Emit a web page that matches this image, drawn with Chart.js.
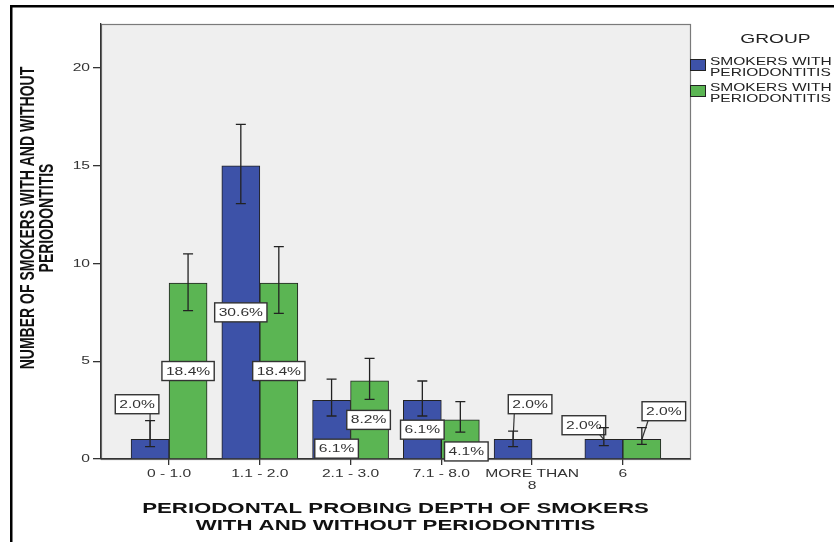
<!DOCTYPE html>
<html>
<head>
<meta charset="utf-8">
<script src="https://cdn.jsdelivr.net/npm/chart.js@4/dist/chart.umd.min.js"></script>
<style>
  html, body { margin: 0; padding: 0; background: #ffffff; }
  canvas { display: block; }
</style>
</head>
<body>
<canvas id="chart" width="834" height="542"></canvas>
<script>
// Probing-depth groups on the horizontal axis
const categories = ['0 - 1.0', '1.1 - 2.0', '2.1 - 3.0', '7.1 - 8.0', 'MORE THAN\n8', '6'];

// Counts per group
const withPerio    = [1, 15, 3, 3, 1, 1];
const withoutPerio = [9, 9, 4, 2, null, 1];

// Error bar limits
const withPerioLow     = [0.63, 13.06, 2.2, 2.2, 0.63, 0.68];
const withPerioHigh    = [1.96, 17.12, 4.09, 3.99, 1.43, 1.6];
const withoutPerioLow  = [7.59, 7.45, 3.05, 1.37, null, 0.75];
const withoutPerioHigh = [10.49, 10.86, 5.15, 2.93, null, 1.6];

// Value axis ticks
const yTicks = [0, 5, 10, 15, 20];

// Legend entries
const seriesNames = ['SMOKERS WITH\nPERIODONTITIS', 'SMOKERS WITH\nPERIODONTITIS'];

// Percentage-label nudges in pixels from the middle of each bar
const labelShiftWith    = [[-13, -45], [0, 0], [5, 19], [0, 0], [17, -45], [-20, -24]];
const labelShiftWithout = [[0, 0], [0, 0], [-1, 0], [6, 12], null, [22, -38]];

const BLUE = '#3d52a8';
const GREEN = '#5bb553';
const INK = '#222222';
const FONT = '"Liberation Sans", Arial, sans-serif';
const WIDE = 1.42;   // horizontal stretch used for the small text

const total = withPerio.concat(withoutPerio).reduce((s, v) => s + (v || 0), 0);
const pct = v => (v / total * 100).toFixed(1) + '%';

function stretchedText(ctx, text, x, y, sx, align) {
  ctx.save();
  ctx.translate(x, y);
  ctx.scale(sx, 1);
  ctx.textAlign = align || 'center';
  ctx.textBaseline = 'middle';
  ctx.fillText(text, 0, 0);
  ctx.restore();
}

const decor = {
  id: 'decor',
  beforeDraw(chart) {
    const { ctx, chartArea: a } = chart;
    ctx.save();
    ctx.fillStyle = '#efefef';
    ctx.fillRect(a.left, a.top, a.right - a.left, a.bottom - a.top);
    ctx.strokeStyle = '#7a7a7a';
    ctx.lineWidth = 1.2;
    ctx.strokeRect(a.left + 0.5, a.top + 0.5, a.right - a.left, a.bottom - a.top);
    // outer frame
    ctx.fillStyle = '#000';
    ctx.fillRect(10, 5, 834 - 10, 2.5);
    ctx.fillRect(10, 5, 2.5, 542 - 5);
    ctx.restore();
  },
  afterDraw(chart) {
    const { ctx } = chart;
    const xs = chart.scales.x, ys = chart.scales.y;

    // tick labels
    ctx.save();
    ctx.fillStyle = '#333';
    ctx.font = '11px ' + FONT;
    xs.ticks.forEach((t, i) => {
      const px = xs.getPixelForValue(t.value);
      categories[i].split('\n').forEach((line, j) => {
        stretchedText(ctx, line, px, 474 + j * 12, WIDE);
      });
    });
    ys.ticks.forEach(t => {
      stretchedText(ctx, String(t.value), 90, ys.getPixelForValue(t.value), WIDE, 'right');
    });
    ctx.restore();

    // value-axis title
    ctx.save();
    ctx.fillStyle = '#111';
    ctx.font = 'bold 14px ' + FONT;
    ctx.translate(37.5, 218);
    ctx.rotate(-Math.PI / 2);
    ctx.scale(1, 1.5);
    ctx.textAlign = 'center';
    ctx.textBaseline = 'middle';
    ctx.fillText('NUMBER OF SMOKERS WITH AND WITHOUT', 0, -9.5 / 1.5);
    ctx.fillText('PERIODONTITIS', 0, 9.5 / 1.5);
    ctx.restore();

    // category-axis title
    ctx.save();
    ctx.fillStyle = '#111';
    ctx.font = 'bold 15px ' + FONT;
    const mid = (chart.chartArea.left + chart.chartArea.right) / 2;
    stretchedText(ctx, 'PERIODONTAL PROBING DEPTH OF SMOKERS', mid, 509, 1.48);
    stretchedText(ctx, 'WITH AND WITHOUT PERIODONTITIS', mid, 525.5, 1.48);

    // legend
    ctx.fillStyle = '#222';
    ctx.font = '13.5px ' + FONT;
    stretchedText(ctx, 'GROUP', 775.5, 39, WIDE);
    const colors = [BLUE, GREEN];
    const tops = [59, 85];
    ctx.font = '11.5px ' + FONT;
    seriesNames.forEach((name, k) => {
      ctx.fillStyle = colors[k];
      ctx.fillRect(690, tops[k], 15, 11);
      ctx.strokeStyle = INK;
      ctx.lineWidth = 1;
      ctx.strokeRect(690.5, tops[k] + 0.5, 15, 11);
      ctx.fillStyle = '#222';
      name.split('\n').forEach((line, j) => {
        stretchedText(ctx, line, 710, tops[k] + 2.5 + j * 11, 1.35, 'left');
      });
    });
    ctx.restore();
  }
};

const marks = {
  id: 'marks',
  afterDatasetsDraw(chart) {
    const { ctx } = chart;
    const y = chart.scales.y;
    const sets = [
      { vals: withPerio, lo: withPerioLow, hi: withPerioHigh, shift: labelShiftWith },
      { vals: withoutPerio, lo: withoutPerioLow, hi: withoutPerioHigh, shift: labelShiftWithout }
    ];
    ctx.save();
    ctx.font = '11px ' + FONT;
    // percentage boxes with leader lines
    sets.forEach((s, d) => {
      const meta = chart.getDatasetMeta(d);
      s.vals.forEach((v, i) => {
        if (v == null) return;
        const el = meta.data[i];
        const bx = el.x;
        const sh = s.shift[i] || [0, 0];
        const cx = bx + sh[0];
        const cy = y.getPixelForValue(v / 2) + sh[1];
        const text = pct(v);
        const w = ctx.measureText(text).width * WIDE + 8;
        const h = 19;
        const left = cx - w / 2, top = cy - h / 2;
        if (Math.abs(sh[1]) > 20) {
          const topPx = y.getPixelForValue(v);
          const lx = Math.min(Math.max(bx, left + 6), left + w - 6);
          ctx.strokeStyle = '#333';
          ctx.lineWidth = 1.2;
          ctx.beginPath();
          ctx.moveTo(bx, topPx);
          ctx.lineTo(lx, top + h);
          ctx.stroke();
        }
        ctx.fillStyle = '#fff';
        ctx.fillRect(left, top, w, h);
        ctx.strokeStyle = '#333';
        ctx.lineWidth = 1.4;
        ctx.strokeRect(left, top, w, h);
        ctx.fillStyle = '#333';
        stretchedText(ctx, text, cx, cy + 0.5, WIDE);
      });
    });
    // error bars
    ctx.strokeStyle = INK;
    ctx.lineWidth = 1.3;
    sets.forEach((s, d) => {
      const meta = chart.getDatasetMeta(d);
      s.vals.forEach((v, i) => {
        if (v == null || s.lo[i] == null) return;
        const x = meta.data[i].x;
        const yl = y.getPixelForValue(s.lo[i]);
        const yh = y.getPixelForValue(s.hi[i]);
        ctx.beginPath();
        ctx.moveTo(x, yl); ctx.lineTo(x, yh);
        ctx.moveTo(x - 5, yl); ctx.lineTo(x + 5, yl);
        ctx.moveTo(x - 5, yh); ctx.lineTo(x + 5, yh);
        ctx.stroke();
      });
    });
    ctx.restore();
  }
};

new Chart(document.getElementById('chart'), {
  type: 'bar',
  data: {
    datasets: [
      {
        label: seriesNames[0],
        data: withPerio.map((v, i) => ({ x: i, y: v })),
        backgroundColor: BLUE,
        borderColor: INK,
        borderWidth: 1
      },
      {
        label: seriesNames[1],
        data: withoutPerio.map((v, i) => ({ x: i, y: v })),
        backgroundColor: GREEN,
        borderColor: INK,
        borderWidth: 1
      }
    ]
  },
  options: {
    responsive: false,
    animation: false,
    devicePixelRatio: 1,
    barThickness: 38,
    layout: { padding: { left: 0, top: 24, right: 144, bottom: 0 } },
    plugins: {
      legend: { display: false },
      tooltip: { enabled: false }
    },
    scales: {
      x: {
        type: 'linear',
        offset: false,
        min: -0.75,
        max: 5.74,
        afterBuildTicks: s => { s.ticks = categories.map((_, i) => ({ value: i })); },
        afterFit: s => { s.height = 83; },
        ticks: { display: false },
        grid: { offset: false, drawOnChartArea: false, drawTicks: true, tickLength: 6, color: '#333', lineWidth: 1.3 },
        border: { display: true, color: '#333', width: 1.3 }
      },
      y: {
        min: 0,
        max: 22.25,
        afterBuildTicks: s => { s.ticks = yTicks.map(v => ({ value: v })); },
        afterFit: s => { s.width = 101; },
        ticks: { display: false },
        grid: { drawOnChartArea: false, drawTicks: true, tickLength: 8, color: '#333', lineWidth: 1.3 },
        border: { display: true, color: '#333', width: 1.3 }
      }
    }
  },
  plugins: [decor, marks]
});
</script>
</body>
</html>
